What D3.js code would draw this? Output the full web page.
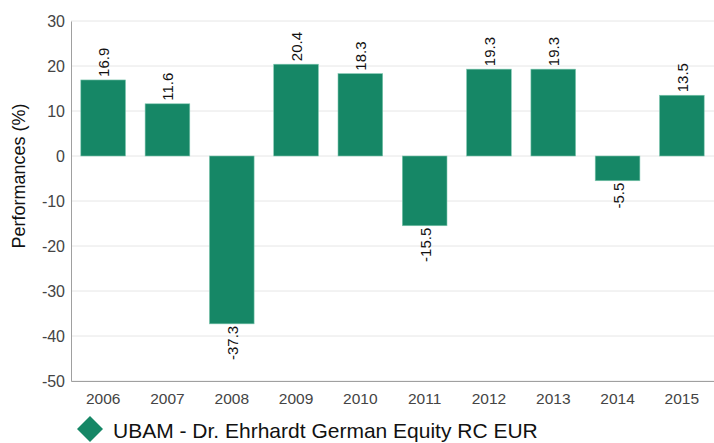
<!DOCTYPE html>
<html>
<head>
<meta charset="utf-8">
<script src="https://cdnjs.cloudflare.com/ajax/libs/d3/7.8.5/d3.min.js"></script>
<style>
  body { margin: 0; background: #fff; }
  text { font-family: "Liberation Sans", Arial, sans-serif; }
</style>
</head>
<body>
<div id="chart"></div>
<script>
var years = ["2006", "2007", "2008", "2009", "2010", "2011", "2012", "2013", "2014", "2015"];
var performances = [16.9, 11.6, -37.3, 20.4, 18.3, -15.5, 19.3, 19.3, -5.5, 13.5];
var yTicks = [30, 20, 10, 0, -10, -20, -30, -40, -50];
var seriesName = "UBAM - Dr. Ehrhardt German Equity RC EUR";

var svgWidth = 714;
var svgHeight = 443;

var margin = { top: 21, right: 0, bottom: 62, left: 71 };
var width = svgWidth - margin.left - margin.right;
var height = svgHeight - margin.top - margin.bottom;

var barColor = "#168766";

var svg = d3.select("#chart").append("svg")
  .attr("width", svgWidth)
  .attr("height", svgHeight);

var chartGroup = svg.append("g")
  .attr("transform", `translate(${margin.left}, ${margin.top})`);

var xScale = d3.scaleBand()
  .domain(years)
  .range([0, width])
  .paddingInner(0.305)
  .paddingOuter(0.1525);

var yScale = d3.scaleLinear()
  .domain([-50, 30])
  .range([height, 0]);

// gridlines
chartGroup.append("g")
  .selectAll("line")
  .data(yTicks)
  .enter()
  .append("line")
  .attr("x1", 0)
  .attr("x2", width)
  .attr("y1", d => yScale(d))
  .attr("y2", d => yScale(d))
  .attr("stroke", "#e6e6e6")
  .attr("stroke-width", 1);

// y axis
var leftAxis = d3.axisLeft(yScale)
  .tickValues(yTicks)
  .tickFormat(d => String(d))
  .tickSize(0)
  .tickPadding(6);
var yAxis = chartGroup.append("g").call(leftAxis);
yAxis.select(".domain").attr("stroke", "#a0a0a0");
yAxis.selectAll("text")
  .attr("fill", "#444")
  .style("font-size", "16px");

// x axis
var bottomAxis = d3.axisBottom(xScale).tickSize(0).tickPadding(12);
var xAxis = chartGroup.append("g")
  .attr("transform", `translate(0, ${height})`)
  .call(bottomAxis);
xAxis.select(".domain").attr("stroke", "#a0a0a0");
xAxis.selectAll("text")
  .attr("fill", "#444")
  .style("font-size", "15.5px");

// bars
chartGroup.selectAll(".bar")
  .data(performances)
  .enter()
  .append("rect")
  .attr("class", "bar")
  .attr("x", (d, i) => xScale(years[i]))
  .attr("y", d => yScale(Math.max(0, d)))
  .attr("width", xScale.bandwidth())
  .attr("height", d => Math.abs(yScale(d) - yScale(0)))
  .attr("fill", barColor)
  .attr("stroke", "#7fc7b0")
  .attr("stroke-width", 0.6);

// value labels
chartGroup.selectAll(".label")
  .data(performances)
  .enter()
  .append("text")
  .attr("class", "label")
  .attr("transform", function(d, i) {
    var cx = xScale(years[i]) + xScale.bandwidth() / 2;
    var cy = d >= 0 ? yScale(d) - 3 : yScale(d) + 2;
    return `translate(${cx + 6}, ${cy}) rotate(-90)`;
  })
  .attr("text-anchor", d => d >= 0 ? "start" : "end")
  .attr("fill", "#111")
  .style("font-size", "15px")
  .text(d => d.toFixed(1));

// y axis title
svg.append("text")
  .attr("transform", `translate(25, ${margin.top + 155}) rotate(-90)`)
  .attr("text-anchor", "middle")
  .attr("fill", "#111")
  .style("font-size", "18px")
  .text("Performances (%)");

// legend
var legend = svg.append("g")
  .attr("transform", "translate(90, 429)");
legend.append("path")
  .attr("d", "M0,-13 L13,0 L0,13 L-13,0 Z")
  .attr("fill", barColor);
legend.append("text")
  .attr("x", 23)
  .attr("y", 9)
  .attr("fill", "#111")
  .style("font-size", "21px")
  .text(seriesName);
</script>
</body>
</html>
